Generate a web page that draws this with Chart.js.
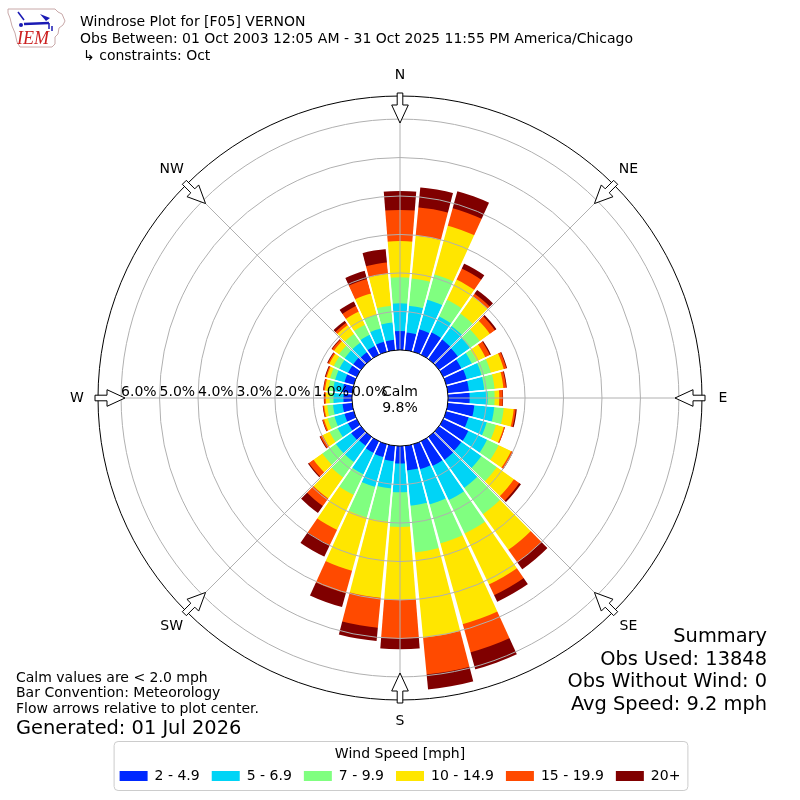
<!DOCTYPE html>
<html>
<head>
<meta charset="utf-8">
<title>Windrose Plot for [F05] VERNON</title>
<script src="https://cdn.jsdelivr.net/npm/chart.js@4.4.1/dist/chart.umd.min.js"></script>
<style>
  html, body { margin: 0; padding: 0; background: #fff; }
  #rose { display: block; }
</style>
</head>
<body>
<canvas id="rose" width="800" height="800"></canvas>
<script>
// Wind directions (degrees, meteorological) and speed bins
const directions = [0, 10, 20, 30, 40, 50, 60, 70, 80, 90, 100, 110, 120, 130, 140, 150, 160, 170,
  180, 190, 200, 210, 220, 230, 240, 250, 260, 270, 280, 290, 300, 310, 320, 330, 340, 350];
const speedBins = ['2 - 4.9', '5 - 6.9', '7 - 9.9', '10 - 14.9', '15 - 19.9', '20+'];
const binColors = ['#0028ff', '#00d4f6', '#80ff80', '#ffe600', '#ff4a00', '#800000'];

// Frequency (% of obs) per direction for each speed bin
const freq2to5 = [0.49, 0.46, 0.60, 0.64, 0.62, 0.60, 0.52, 0.55, 0.55, 0.56, 0.69, 0.60,
  0.72, 0.71, 0.73, 0.71, 0.67, 0.64, 0.45, 0.40, 0.35, 0.33, 0.28, 0.31,
  0.25, 0.25, 0.25, 0.22, 0.25, 0.25, 0.25, 0.25, 0.22, 0.25, 0.27, 0.27];
const freq5to7 = [0.72, 0.70, 0.80, 0.46, 0.43, 0.38, 0.30, 0.40, 0.40, 0.47, 0.52, 0.49,
  0.54, 0.64, 0.89, 0.98, 0.95, 0.92, 0.75, 0.71, 0.80, 0.62, 0.52, 0.49,
  0.30, 0.27, 0.25, 0.26, 0.25, 0.25, 0.25, 0.27, 0.30, 0.32, 0.36, 0.45];
const freq7to10 = [0.68, 0.71, 0.68, 0.48, 0.40, 0.32, 0.15, 0.25, 0.27, 0.18, 0.25, 0.25,
  0.33, 0.49, 0.84, 0.96, 1.05, 1.22, 0.90, 0.87, 0.82, 0.59, 0.49, 0.43,
  0.23, 0.18, 0.15, 0.10, 0.12, 0.14, 0.16, 0.18, 0.28, 0.29, 0.37, 0.44];
const freq10to15 = [0.94, 1.12, 1.32, 0.58, 0.55, 0.32, 0.24, 0.35, 0.23, 0.12, 0.26, 0.21,
  0.36, 0.55, 1.14, 1.47, 2.18, 2.23, 1.90, 1.99, 1.44, 1.01, 0.67, 0.28,
  0.20, 0.10, 0.08, 0.10, 0.09, 0.09, 0.13, 0.16, 0.28, 0.38, 0.57, 0.83];
const freq15to20 = [0.81, 0.74, 0.47, 0.32, 0.08, 0.16, 0.13, 0.07, 0.07, 0.09, 0.05, 0.03,
  0.05, 0.17, 0.40, 0.31, 0.76, 0.96, 1.00, 0.78, 0.61, 0.44, 0.24, 0.15,
  0.07, 0.04, 0.03, 0.04, 0.04, 0.03, 0.04, 0.06, 0.07, 0.16, 0.39, 0.30];
const freq20plus = [0.49, 0.52, 0.46, 0.14, 0.12, 0.05, 0.03, 0.02, 0.02, 0.01, 0.03, 0.00,
  0.01, 0.05, 0.22, 0.19, 0.46, 0.39, 0.28, 0.35, 0.37, 0.33, 0.22, 0.03,
  0.02, 0.01, 0.01, 0.01, 0.01, 0.02, 0.02, 0.02, 0.07, 0.13, 0.22, 0.35];

const calmPct = 9.8;
const radialTicks = [0, 1, 2, 3, 4, 5, 6];
const compassNames = ['N', 'NE', 'E', 'SE', 'S', 'SW', 'W', 'NW'];

const titleLines = [
  'Windrose Plot for [F05] VERNON',
  'Obs Between: 01 Oct 2003 12:05 AM - 31 Oct 2025 11:55 PM America/Chicago',
  '\u21b3 constraints: Oct'
];
const notes = ['Calm values are < 2.0 mph', 'Bar Convention: Meteorology', 'Flow arrows relative to plot center.'];
const generated = 'Generated: 01 Jul 2026';
const summary = ['Summary', 'Obs Used: 13848', 'Obs Without Wind: 0', 'Avg Speed: 9.2 mph'];

const FONT = 'DejaVu Sans';
const SMALL = 14;
const BIG = 19.4;

// stack the bins: each dataset holds the running total, smallest on top
const binSeries = [freq2to5, freq5to7, freq7to10, freq10to15, freq15to20, freq20plus];
const running = directions.map(() => 0);
const datasets = binSeries.map((vals, i) => {
  const data = vals.map((v, k) => (running[k] = +(running[k] + v).toFixed(3)));
  return { label: speedBins[i], data: data, backgroundColor: binColors[i], borderWidth: 0 };
});

const rad = (deg) => deg * Math.PI / 180;

const roseDecor = {
  id: 'roseDecor',
  afterDatasetsDraw(chart) {
    const r = chart.scales.r;
    const ctx = chart.ctx;
    const cx = r.xCenter, cy = r.yCenter;
    const rIn = r.getDistanceFromCenterForValue(0);
    const rOut = r.drawingArea;
    const step = 360 / directions.length;
    ctx.save();
    // white gaps between direction bars
    ctx.fillStyle = '#fff';
    ctx.strokeStyle = '#fff';
    ctx.lineWidth = 1.5;
    directions.forEach((d) => {
      const a = rad(d - step / 2 - 90);
      const da = rad(0.5);
      ctx.beginPath();
      ctx.moveTo(cx, cy);
      ctx.arc(cx, cy, rOut, a - da, a + da);
      ctx.closePath();
      ctx.fill();
      ctx.beginPath();
      ctx.moveTo(cx, cy);
      ctx.lineTo(cx + rOut * Math.cos(a), cy + rOut * Math.sin(a));
      ctx.stroke();
    });
    // spokes
    ctx.strokeStyle = '#b0b0b0';
    ctx.lineWidth = 1;
    compassNames.forEach((n, i) => {
      const a = rad(i * 45 - 90);
      ctx.beginPath();
      ctx.moveTo(cx + rIn * Math.cos(a), cy + rIn * Math.sin(a));
      ctx.lineTo(cx + rOut * Math.cos(a), cy + rOut * Math.sin(a));
      ctx.stroke();
    });
    // calm hole
    ctx.fillStyle = '#fff';
    ctx.beginPath();
    ctx.arc(cx, cy, rIn, 0, Math.PI * 2);
    ctx.fill();
    ctx.restore();
  },
  afterDraw(chart) {
    const r = chart.scales.r;
    const ctx = chart.ctx;
    const cx = r.xCenter, cy = r.yCenter;
    const rOut = r.drawingArea;
    ctx.save();
    ctx.fillStyle = '#000';

    // radial tick labels along W
    ctx.font = SMALL + 'px "' + FONT + '"';
    ctx.textAlign = 'left';
    ctx.textBaseline = 'alphabetic';
    radialTicks.forEach((v) => {
      ctx.fillText(v.toFixed(1) + '%', cx - r.getDistanceFromCenterForValue(v), cy - 2.5);
    });

    // calm
    ctx.textAlign = 'center';
    ctx.fillText('Calm', cx, cy - 2.5);
    ctx.fillText(calmPct.toFixed(1) + '%', cx, cy + 13.5);

    // compass labels and flow arrows
    ctx.textBaseline = 'middle';
    compassNames.forEach((n, i) => {
      const a = rad(i * 45);
      const ux = Math.sin(a), uy = -Math.cos(a);
      const px = Math.cos(a), py = Math.sin(a);
      ctx.fillStyle = '#000';
      ctx.fillText(n, cx + (rOut + 21) * ux, cy + (rOut + 21) * uy);
      const pts = [[rOut + 3, -2.8], [rOut - 9, -2.8], [rOut - 9, -8.3], [rOut - 27, 0],
        [rOut - 9, 8.3], [rOut - 9, 2.8], [rOut + 3, 2.8]];
      ctx.beginPath();
      pts.forEach(([d, o], j) => {
        const x = cx + d * ux + o * px, y = cy + d * uy + o * py;
        if (j === 0) ctx.moveTo(x, y); else ctx.lineTo(x, y);
      });
      ctx.closePath();
      ctx.fillStyle = '#fff';
      ctx.fill();
      ctx.strokeStyle = '#000';
      ctx.lineWidth = 1;
      ctx.stroke();
    });

    // title block
    ctx.fillStyle = '#000';
    ctx.textAlign = 'left';
    ctx.textBaseline = 'alphabetic';
    ctx.font = SMALL + 'px "' + FONT + '"';
    ctx.fillText(titleLines[0], 80, 25.5);
    ctx.fillText(titleLines[1], 80, 42.5);
    ctx.fillText(titleLines[2], 83, 59.5);

    // IEM logo
    const iowa = [[8, 9], [55, 9], [58, 12], [62, 14], [65, 21], [63, 25], [59, 28], [58, 34], [55, 37],
      [55, 44], [52, 47], [20, 47], [17, 42], [15, 33], [12, 26], [10, 18], [8, 13]];
    ctx.beginPath();
    iowa.forEach(([x, y], j) => (j === 0 ? ctx.moveTo(x, y) : ctx.lineTo(x, y)));
    ctx.closePath();
    ctx.strokeStyle = '#c8a8a8';
    ctx.lineWidth = 1;
    ctx.stroke();
    ctx.strokeStyle = '#1a1ab4';
    ctx.fillStyle = '#1a1ab4';
    ctx.lineWidth = 1.5;
    ctx.beginPath(); ctx.moveTo(18, 12); ctx.lineTo(24, 20); ctx.stroke();
    ctx.lineWidth = 2.5;
    ctx.beginPath(); ctx.moveTo(24, 24); ctx.lineTo(49, 23); ctx.stroke();
    ctx.beginPath(); ctx.moveTo(40, 14); ctx.lineTo(50, 18); ctx.lineTo(46, 21); ctx.closePath(); ctx.fill();
    ctx.lineWidth = 1.5;
    ctx.beginPath(); ctx.moveTo(49, 23); ctx.lineTo(49, 29); ctx.moveTo(52, 26); ctx.lineTo(52, 31); ctx.stroke();
    ctx.beginPath(); ctx.arc(21, 25, 2, 0, Math.PI * 2); ctx.fill();
    ctx.fillStyle = '#cc2020';
    ctx.font = 'italic 18px "Liberation Serif"';
    ctx.fillText('IEM', 17, 44);

    // notes
    ctx.fillStyle = '#000';
    ctx.font = SMALL + 'px "' + FONT + '"';
    notes.forEach((t, i) => ctx.fillText(t, 16, 681.5 + i * 15.8));
    ctx.font = BIG + 'px "' + FONT + '"';
    ctx.fillText(generated, 16, 734);

    // summary
    ctx.textAlign = 'right';
    summary.forEach((t, i) => ctx.fillText(t, 767, 642 + i * 22.5));

    // legend frame
    const lg = chart.legend;
    const hb = lg.legendHitBoxes;
    if (hb && hb.length) {
      const first = hb[0], last = hb[hb.length - 1];
      const mid = first.top + first.height / 2;
      ctx.strokeStyle = '#cccccc';
      ctx.lineWidth = 1;
      ctx.beginPath();
      ctx.roundRect(first.left - 5.5, mid - 34.5, last.left + last.width - first.left + 13, 49, 4);
      ctx.stroke();
    }
    ctx.restore();
  }
};

Chart.defaults.font.family = FONT;
Chart.defaults.font.size = SMALL;
Chart.defaults.color = '#000';

new Chart(document.getElementById('rose'), {
  type: 'polarArea',
  data: { labels: directions, datasets: datasets },
  options: {
    responsive: false,
    devicePixelRatio: 1,
    animation: false,
    events: [],
    layout: { padding: { top: 96, left: 97, right: 97, bottom: 7 } },
    elements: { arc: { borderWidth: 0 } },
    scales: {
      r: {
        min: -1.25,
        max: 6.6,
        startAngle: -5,
        ticks: { display: false, stepSize: 1 },
        angleLines: { display: false },
        pointLabels: { display: false },
        grid: {
          z: 1,
          circular: true,
          color: (c) => {
            const v = c.tick.value;
            return (v === 0 || v === 6.6) ? '#000' : '#b0b0b0';
          },
          lineWidth: (c) => {
            const v = c.tick.value;
            if (v === 0 || v === 6.6) return 1;
            return (Number.isInteger(v) && v > 0) ? 1 : 0;
          }
        }
      }
    },
    plugins: {
      tooltip: { enabled: false },
      legend: {
        position: 'bottom',
        title: {
          display: true,
          text: 'Wind Speed [mph]',
          color: '#000',
          font: { family: FONT, size: SMALL },
          padding: { top: 45.6, bottom: -7.3 }
        },
        labels: {
          color: '#000',
          font: { family: FONT, size: SMALL },
          boxWidth: 28,
          boxHeight: 10,
          padding: 12,
          generateLabels: (chart) => chart.data.datasets.map((ds, i) => ({
            text: ds.label,
            fillStyle: ds.backgroundColor,
            strokeStyle: ds.backgroundColor,
            lineWidth: 0,
            hidden: false,
            datasetIndex: i
          }))
        }
      }
    }
  },
  plugins: [roseDecor]
});
</script>
</body>
</html>
